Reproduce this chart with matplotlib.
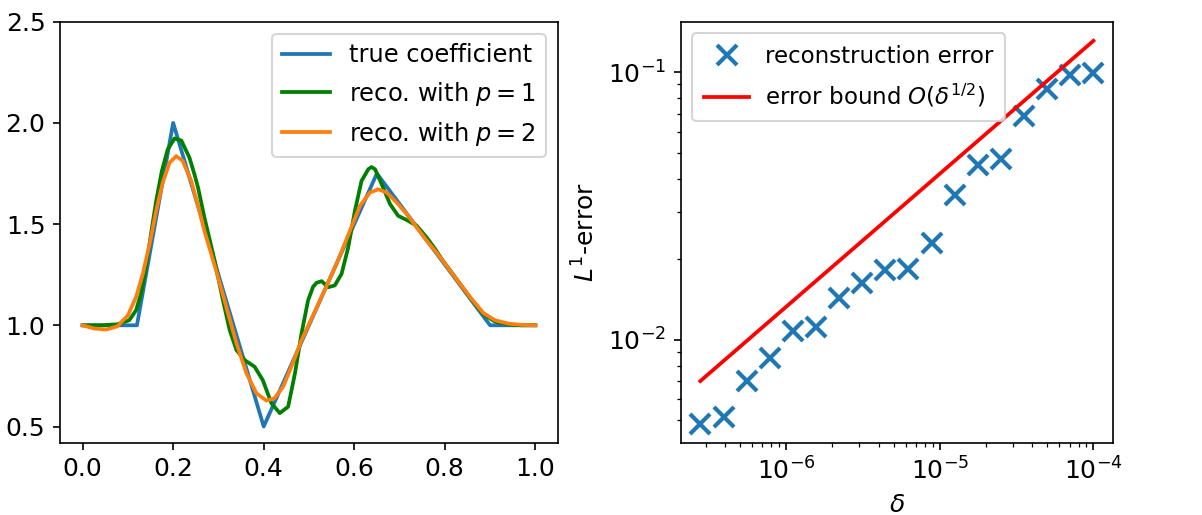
import matplotlib
matplotlib.use("Agg")
import matplotlib.pyplot as plt
from matplotlib.ticker import MultipleLocator

# left panel: coefficient and reconstructions
true_x = [0.0, 0.12, 0.2, 0.4, 0.65, 0.9, 1.0]
true_y = [1.0, 1.0, 2.0, 0.5, 1.75, 1.0, 1.0]

p1_x = [0.0, 0.04, 0.077, 0.103, 0.118, 0.129, 0.14, 0.151, 0.1625, 0.175,
        0.188, 0.203, 0.218, 0.236, 0.247, 0.255, 0.269, 0.2916, 0.31, 0.325,
        0.34, 0.358, 0.38, 0.398, 0.417, 0.4355, 0.454, 0.469, 0.4835, 0.498,
        0.509, 0.5167, 0.528, 0.5425, 0.557, 0.572, 0.5867, 0.6015, 0.616,
        0.631, 0.638, 0.646, 0.6606, 0.679, 0.697, 0.716, 0.738, 0.76, 0.7786,
        0.793, 0.83, 0.86, 0.8855, 0.911, 0.941, 0.97, 1.0]
p1_y = [1.0, 1.0, 1.005, 1.025, 1.074, 1.156, 1.287, 1.451, 1.615, 1.762,
        1.869, 1.923, 1.913, 1.828, 1.746, 1.68, 1.533, 1.32, 1.123, 0.975,
        0.877, 0.828, 0.795, 0.729, 0.615, 0.566, 0.598, 0.762, 0.959, 1.123,
        1.19, 1.21, 1.218, 1.188, 1.197, 1.254, 1.385, 1.566, 1.713,
        1.771, 1.782, 1.771, 1.697, 1.599, 1.541, 1.52, 1.492, 1.434, 1.377,
        1.328, 1.216, 1.125, 1.055, 1.018, 1.004, 1.0, 1.0]

p2_x = [0.0, 0.026, 0.052, 0.077, 0.1, 0.118, 0.133, 0.148, 0.1625, 0.177,
        0.192, 0.207, 0.221, 0.24, 0.258, 0.269, 0.295, 0.3175, 0.34, 0.362,
        0.384, 0.406, 0.424, 0.443, 0.461, 0.4835, 0.505, 0.531, 0.561,
        0.5904, 0.6126, 0.6347, 0.653, 0.6717, 0.694, 0.716, 0.738, 0.76,
        0.7786, 0.793, 0.83, 0.86, 0.8855, 0.911, 0.941, 0.97, 1.0]
p2_y = [1.0, 0.984, 0.979, 0.995, 1.049, 1.139, 1.254, 1.402, 1.566, 1.705,
        1.803, 1.836, 1.812, 1.713, 1.566, 1.467, 1.27, 1.09, 0.91, 0.762,
        0.664, 0.628, 0.64, 0.697, 0.795, 0.926, 1.03, 1.156, 1.303,
        1.467, 1.59, 1.656, 1.672, 1.656, 1.606, 1.549, 1.484, 1.418,
        1.368, 1.326, 1.215, 1.128, 1.06, 1.025, 1.008, 1.002, 1.0]

# right panel: error vs noise level
delta = [2.76e-7, 3.91e-7, 5.52e-7, 7.81e-7, 1.10e-6, 1.56e-6, 2.21e-6,
         3.13e-6, 4.42e-6, 6.25e-6, 8.84e-6, 1.25e-5, 1.77e-5, 2.5e-5,
         3.54e-5, 5.0e-5, 7.07e-5, 1.0e-4]
l1_error = [0.00487, 0.00516, 0.00702, 0.00857, 0.01083, 0.01114, 0.01439,
            0.01636, 0.01824, 0.01834, 0.02304, 0.03463, 0.04515, 0.04737,
            0.06865, 0.0869, 0.09797, 0.0994]
bound_delta = [2.76e-7, 1.0e-4]
bound_err = [0.00702, 0.131]

plt.rcParams["font.size"] = 12

fig = plt.figure(figsize=(1202 / 150, 515 / 150), dpi=150)
ax1 = fig.add_axes([0.0499, 0.1404, 0.4143, 0.8175])
ax2 = fig.add_axes([0.5663, 0.1404, 0.3597, 0.8175])

lw = 1.8
ax1.plot(true_x, true_y, color="tab:blue", lw=lw, label="true coefficient")
ax1.plot(p1_x, p1_y, color="green", lw=lw, label="reco. with $p = 1$")
ax1.plot(p2_x, p2_y, color="tab:orange", lw=lw, label="reco. with $p = 2$")
ax1.set_ylim(0.42, 2.5)
ax1.yaxis.set_major_locator(MultipleLocator(0.5))
ax1.legend(loc="upper right", fontsize=11.6)

ax2.loglog(delta, l1_error, "x", color="tab:blue", ms=10, mew=2,
           label="reconstruction error")
ax2.loglog(bound_delta, bound_err, "-", color="red", lw=lw,
           label=r"error bound $O(\delta^{1/2})$")
ax2.set_xlabel(r"$\delta$")
ax2.set_ylabel(r"$L^1$-error")
ax2.legend(loc="upper left", fontsize=11, labelspacing=0.65,
           borderpad=0.5, handletextpad=0.7)

fig.savefig("out.png", dpi=150)
